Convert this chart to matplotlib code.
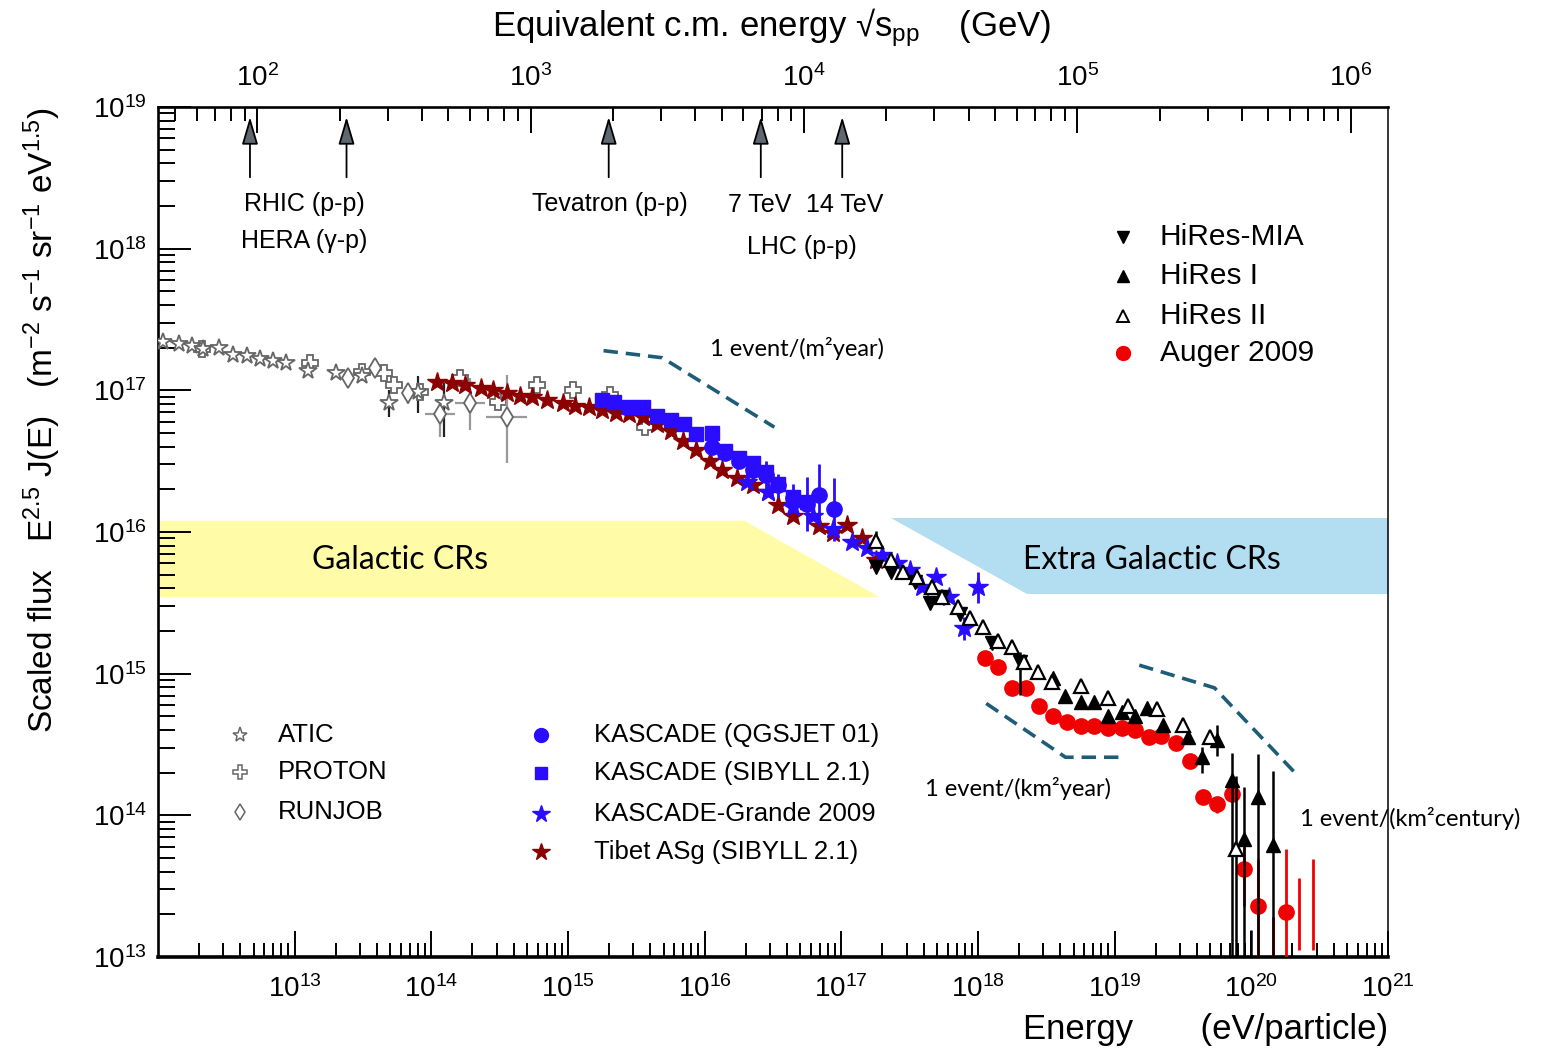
import numpy as np
import matplotlib
matplotlib.use('Agg')
import matplotlib.pyplot as plt
from matplotlib.patches import Polygon, FancyArrowPatch
from matplotlib.ticker import LogLocator, NullFormatter

plt.rcParams['font.family'] = ['Liberation Sans', 'DejaVu Sans']
plt.rcParams['mathtext.fontset'] = 'custom'
plt.rcParams['mathtext.rm'] = 'Liberation Sans'
plt.rcParams['mathtext.it'] = 'Liberation Sans:italic'
plt.rcParams['mathtext.bf'] = 'Liberation Sans:bold'
plt.rcParams['mathtext.sf'] = 'Liberation Sans'

# ---- data (log10 of energy in eV, log10 of E^2.5 J(E)) ----
atic_logE = [12.04, 12.15, 12.25, 12.33, 12.45, 12.55, 12.65, 12.75, 12.84, 12.94, 13.10, 13.30, 13.49, 13.69, 13.90, 14.09]
atic_logF = [17.34, 17.33, 17.31, 17.29, 17.30, 17.25, 17.24, 17.22, 17.21, 17.19, 17.14, 17.12, 17.10, 16.91, 16.99, 16.91]
atic_err_lo = [0] * 13 + [0.10, 0.15, 0.24]
atic_err_hi = [0] * 13 + [0.09, 0.11, 0.14]

proton_logE = [12.32, 13.11, 13.49, 13.65, 13.73, 13.92, 14.21, 14.49, 14.77, 15.04, 15.31, 15.56]
proton_logF = [17.29, 17.19, 17.13, 17.12, 17.04, 16.99, 17.09, 16.92, 17.04, 17.00, 16.97, 16.74]

runjob_logE = [13.39, 13.59, 13.83, 14.06, 14.28, 14.55]
runjob_logF = [17.09, 17.16, 16.98, 16.83, 16.91, 16.81]
runjob_err_lo = [0, 0, 0.08, 0.16, 0.19, 0.32]
runjob_err_hi = [0, 0, 0.07, 0.11, 0.18, 0.30]
runjob_xerr = [0, 0, 0, 0.11, 0.11, 0.15]

tibet_logE = [14.04, 14.15, 14.25, 14.36, 14.45, 14.55, 14.65, 14.74, 14.85, 14.96, 15.05, 15.15, 15.25, 15.35, 15.45, 15.55,
              15.65, 15.75, 15.84, 15.94, 16.04, 16.13, 16.24, 16.35, 16.46, 16.54, 16.65, 16.84, 16.94, 17.04, 17.15, 17.25]
tibet_logF = [17.06, 17.05, 17.04, 17.02, 17.00, 16.98, 16.96, 16.95, 16.93, 16.91, 16.89, 16.88, 16.86, 16.84, 16.83, 16.81,
              16.76, 16.71, 16.64, 16.58, 16.50, 16.44, 16.38, 16.33, 16.28, 16.19, 16.11, 16.04, 15.99, 16.05, 15.96, 15.80]

kas_sib_logE = [15.25, 15.34, 15.45, 15.55, 15.65, 15.75, 15.85, 15.94, 16.05, 16.15, 16.25, 16.35, 16.45, 16.54, 16.65, 16.75]
kas_sib_logF = [16.93, 16.92, 16.88, 16.88, 16.82, 16.79, 16.76, 16.69, 16.70, 16.57, 16.52, 16.49, 16.42, 16.34, 16.25, 16.21]

kas_qgs_logE = [16.05, 16.15, 16.25, 16.35, 16.45, 16.54, 16.65, 16.75, 16.84, 16.95]
kas_qgs_logF = [16.60, 16.56, 16.50, 16.44, 16.40, 16.33, 16.24, 16.20, 16.26, 16.16]
kas_qgs_err = [0, 0, 0, 0, 0.10, 0.08, 0.10, 0.19, 0.22, 0.22]

kg_logE = [16.31, 16.46, 16.65, 16.79, 16.94, 17.08, 17.19, 17.30, 17.41, 17.50, 17.59, 17.69, 17.79, 17.90, 18.00]
kg_logF = [16.35, 16.28, 16.18, 16.11, 16.02, 15.93, 15.89, 15.84, 15.78, 15.73, 15.61, 15.68, 15.54, 15.32, 15.61]
kg_err = [0] * 13 + [0.08, 0.11]

mia_logE = [17.25, 17.36, 17.54, 17.65, 17.74, 17.87, 18.10, 18.31]
mia_logF = [15.75, 15.72, 15.65, 15.50, 15.54, 15.42, 15.22, 15.08]
mia_err_lo = [0] * 7 + [0.23]
mia_err_hi = [0] * 7 + [0.07]

hires1_logE = [18.55, 18.64, 18.75, 18.85, 18.95, 19.05, 19.15, 19.24, 19.35, 19.54, 19.64, 19.75, 19.86, 19.95, 20.05, 20.16]
hires1_logF = [14.97, 14.84, 14.80, 14.80, 14.70, 14.73, 14.70, 14.76, 14.64, 14.55, 14.41, 14.53, 14.25, 13.83, 14.13, 13.79]
hires1_err_lo = [0] * 10 + [0.11, 0.11, 3, 3, 3, 3]
hires1_err_hi = [0] * 10 + [0.07, 0.11, 0.19, 0.37, 0.30, 0.52]

hires2_logE = [17.25, 17.36, 17.45, 17.55, 17.66, 17.74, 17.85, 17.94, 18.04, 18.15, 18.25, 18.34, 18.44, 18.54,
               18.75, 18.95, 19.10, 19.31, 19.50, 19.70, 19.89]
hires2_logF = [15.94, 15.80, 15.72, 15.68, 15.61, 15.54, 15.47, 15.39, 15.33, 15.23, 15.19, 15.08, 15.01, 14.94,
               14.91, 14.83, 14.77, 14.75, 14.64, 14.55, 13.76]
hires2_err_lo = [0.05] + [0] * 19 + [3]
hires2_err_hi = [0.07] + [0] * 19 + [0.52]

auger_logE = [18.05, 18.15, 18.25, 18.35, 18.45, 18.55, 18.65, 18.75, 18.85, 18.95, 19.05, 19.15, 19.25, 19.34,
              19.45, 19.55, 19.65, 19.75, 19.86, 19.95, 20.05, 20.25]
auger_logF = [15.11, 15.05, 14.90, 14.90, 14.77, 14.70, 14.66, 14.63, 14.63, 14.62, 14.62, 14.60, 14.55, 14.56,
              14.51, 14.38, 14.13, 14.08, 14.15, 13.62, 13.36, 13.32]
auger_err_lo = [0] * 16 + [0.05, 0.06, 0.05, 0.26, 3, 3]
auger_err_hi = [0] * 16 + [0.05, 0.05, 0.05, 0.16, 0.33, 0.44]

# error bars whose points fall below the plot
auger_bar_logE = [20.16, 20.35, 20.45]
auger_bar_lo = [12.9, 13.05, 13.05]
auger_bar_hi = [13.28, 13.56, 13.69]
hires_bar_logE = [20.00]
hires_bar_lo = [12.9]
hires_bar_hi = [13.19]

# colliders, sqrt(s) in GeV
collider_rs = [94, 212, 1930, 6950, 13800]

# band outlines (log E, log flux)
gal_band_logE = [12.0, 16.29, 17.28, 12.0]
gal_band_logF = [16.08, 16.08, 15.54, 15.54]
xgal_band_logE = [17.36, 21.0, 21.0, 18.36]
xgal_band_logF = [16.10, 16.10, 15.56, 15.56]

# event-rate guides
rate_m2yr_logE = [15.26, 15.69, 16.51]
rate_m2yr_logF = [17.28, 17.23, 16.74]
rate_km2yr_logE = [18.06, 18.64, 19.07]
rate_km2yr_logF = [14.79, 14.41, 14.41]
rate_km2cent_logE = [19.18, 19.73, 20.32]
rate_km2cent_logF = [15.06, 14.90, 14.30]

x_tick_exp = list(range(13, 22))

M_P = 0.938e9  # eV


def sqrt_s(E):
    return np.sqrt(2 * M_P * E) / 1e9


def energy(rs):
    return (rs * 1e9) ** 2 / (2 * M_P)


def lin(a):
    return 10 ** np.asarray(a, dtype=float)


def dex_err(logF, lo, hi):
    F = lin(logF)
    return [F - F * lin(-np.asarray(lo)), F * lin(hi) - F]


W, H = 1555, 1049
fig = plt.figure(figsize=(W / 100, H / 100), dpi=100)
ax = fig.add_axes([158 / W, 1 - 957 / H, 1230 / W, 850 / H])


def fpx(x, y):
    return x / W, 1 - y / H


ax.set_xscale('log')
ax.set_yscale('log')
ax.set_xlim(1e12, 1e21)
ax.set_ylim(1e13, 1e19)

# bands
ax.add_patch(Polygon(np.column_stack([lin(gal_band_logE), lin(gal_band_logF)]), closed=True,
                     facecolor='#FFFBA6', edgecolor='none', zorder=1))
ax.add_patch(Polygon(np.column_stack([lin(xgal_band_logE), lin(xgal_band_logF)]), closed=True,
                     facecolor='#B3DDF1', edgecolor='none', zorder=1))

gray = '#666666'
blue = '#2A0CFF'
dred = '#8B0000'

ax.errorbar(lin(atic_logE), lin(atic_logF), yerr=dex_err(atic_logF, atic_err_lo, atic_err_hi),
            fmt='*', ms=13, mfc='white', mec=gray, mew=1.3, ecolor='#222222', elinewidth=1.6, zorder=3)
ax.plot(lin(proton_logE), lin(proton_logF), 'P', ms=12, mfc='white', mec=gray, mew=1.3, zorder=3)
rj_x = lin(runjob_logE)
ax.errorbar(rj_x, lin(runjob_logF), yerr=dex_err(runjob_logF, runjob_err_lo, runjob_err_hi),
            xerr=[rj_x - rj_x * lin(-np.asarray(runjob_xerr)), rj_x * lin(runjob_xerr) - rj_x],
            fmt='d', ms=10, mfc='white', mec=gray, mew=1.3, ecolor='#999999', elinewidth=1.6, zorder=3)

ax.plot(lin(tibet_logE), lin(tibet_logF), '*', ms=15, color=dred, zorder=4)
ax.plot(lin(kas_sib_logE), lin(kas_sib_logF), 's', ms=10, color=blue, zorder=5)
ax.errorbar(lin(kas_qgs_logE), lin(kas_qgs_logF), yerr=dex_err(kas_qgs_logF, kas_qgs_err, kas_qgs_err),
            fmt='o', ms=11, color=blue, elinewidth=2, zorder=5)
ax.errorbar(lin(kg_logE), lin(kg_logF), yerr=dex_err(kg_logF, kg_err, kg_err),
            fmt='*', ms=15, color=blue, elinewidth=2, zorder=5)

ax.errorbar(lin(auger_logE), lin(auger_logF), yerr=dex_err(auger_logF, auger_err_lo, auger_err_hi),
            fmt='o', ms=11, color='#F00000', elinewidth=2, zorder=5)
ax.vlines(lin(auger_bar_logE), lin(auger_bar_lo), lin(auger_bar_hi), color='#F00000', lw=2, zorder=5)
ax.errorbar(lin(mia_logE), lin(mia_logF), yerr=dex_err(mia_logF, mia_err_lo, mia_err_hi),
            fmt='v', ms=10, color='black', elinewidth=1.8, zorder=6)
ax.errorbar(lin(hires1_logE), lin(hires1_logF), yerr=dex_err(hires1_logF, hires1_err_lo, hires1_err_hi),
            fmt='^', ms=10, color='black', elinewidth=1.8, zorder=6)
ax.vlines(lin(hires_bar_logE), lin(hires_bar_lo), lin(hires_bar_hi), color='black', lw=1.8, zorder=6)
ax.errorbar(lin(hires2_logE), lin(hires2_logF), yerr=dex_err(hires2_logF, hires2_err_lo, hires2_err_hi),
            fmt='^', ms=10, mfc='white', mec='black', mew=1.6, ecolor='black', elinewidth=1.8, zorder=6)

# event-rate guides
dash_col = '#1F5C78'
for le, lf in [(rate_m2yr_logE, rate_m2yr_logF), (rate_km2yr_logE, rate_km2yr_logF),
               (rate_km2cent_logE, rate_km2cent_logF)]:
    ax.plot(lin(le), lin(lf), color=dash_col, lw=2.6, ls=(0, (4, 2.2)), zorder=7)

# collider arrows
for rs in collider_rs:
    e = energy(rs)
    ax.add_patch(FancyArrowPatch((e, 3.05e18), (e, 8.9e18), arrowstyle='-|>,head_length=0.85,head_width=0.25',
                                 mutation_scale=20, lw=1.3, edgecolor='black', facecolor='#5F6870', zorder=8))

# ticks and frame
ax.set_xticks(lin(x_tick_exp))
ax.tick_params(which='both', direction='in', top=False, right=False, width=1.4)
ax.tick_params(axis='x', which='major', length=19, labelsize=20, pad=13)
ax.tick_params(axis='x', which='minor', length=10)
ax.tick_params(axis='y', which='major', length=24, labelsize=20, pad=8)
ax.tick_params(axis='y', which='minor', length=12)
ax.xaxis.set_minor_locator(LogLocator(base=10, subs=np.arange(2, 10), numticks=200))
ax.xaxis.set_minor_formatter(NullFormatter())
ax.yaxis.set_major_locator(LogLocator(base=10, numticks=20))
ax.yaxis.set_minor_locator(LogLocator(base=10, subs=np.arange(2, 10), numticks=200))
ax.yaxis.set_minor_formatter(NullFormatter())
ax.spines['left'].set_linewidth(1.9)
ax.spines['bottom'].set_linewidth(2.6)
ax.spines['right'].set_linewidth(1.1)
ax.spines['top'].set_visible(False)

tw = ax.twiny()
tw.set_xscale('log')
tw.set_xlim(sqrt_s(1e12), sqrt_s(1e21))
tw.tick_params(which='both', direction='in', width=1.4)
tw.tick_params(which='major', length=19, labelsize=20, pad=11)
tw.tick_params(which='minor', length=10)
tw.xaxis.set_major_locator(LogLocator(base=10, numticks=20))
tw.xaxis.set_minor_locator(LogLocator(base=10, subs=np.arange(2, 10), numticks=200))
tw.xaxis.set_minor_formatter(NullFormatter())
for s in ['left', 'right', 'bottom']:
    tw.spines[s].set_visible(False)
tw.spines['top'].set_linewidth(1.9)

# axis titles
fig.text(*fpx(772, 28), r'Equivalent c.m. energy √s$_{\mathrm{pp}}$    (GeV)', fontsize=25, ha='center', va='center')
fig.text(*fpx(1388, 1030), 'Energy       (eV/particle)', fontsize=25, ha='right', va='center')
fig.text(*fpx(42, 420), r'Scaled flux   E$^{2.5}$ J(E)   (m$^{-2}$ s$^{-1}$ sr$^{-1}$ eV$^{1.5}$)',
         fontsize=24, rotation=90, ha='center', va='center')

# collider labels
for (x, y, t) in [(304, 204, 'RHIC (p-p)'), (304, 241, 'HERA (γ-p)'), (610, 204, 'Tevatron (p-p)'),
                  (760, 205, '7 TeV'), (845, 205, '14 TeV'), (802, 247, 'LHC (p-p)')]:
    fig.text(*fpx(x, y), t, fontsize=18, ha='center', va='center')

# band and rate labels
cal = ['Lato', 'DejaVu Sans']
fig.text(*fpx(400, 560), 'Galactic CRs', fontsize=23, ha='center', va='center', family=cal, zorder=9)
fig.text(*fpx(1152, 560), 'Extra Galactic CRs', fontsize=23, ha='center', va='center', family=cal, zorder=9)
fig.text(*fpx(710, 348), '1 event/(m²year)', fontsize=17, ha='left', va='center', family=cal)
fig.text(*fpx(925, 789), '1 event/(km²year)', fontsize=17, ha='left', va='center', family=cal)
fig.text(*fpx(1300, 819), '1 event/(km²century)', fontsize=17, ha='left', va='center', family=cal)


# legends
def entry(mx, tx, y, label, size, **mk):
    ax.plot([fpx(mx, y)[0]], [fpx(mx, y)[1]], transform=fig.transFigure, clip_on=False, ls='none', **mk)
    fig.text(*fpx(tx, y), label, fontsize=size, ha='left', va='center')


entry(240, 278, 735, 'ATIC', 18.5, marker='*', ms=11, mfc='white', mec=gray, mew=1.1)
entry(240, 278, 772, 'PROTON', 18.5, marker='P', ms=10, mfc='white', mec=gray, mew=1.1)
entry(240, 278, 812, 'RUNJOB', 18.5, marker='d', ms=8, mfc='white', mec=gray, mew=1.1)
entry(541, 594, 735, 'KASCADE (QGSJET 01)', 18.5, marker='o', ms=10, color=blue)
entry(541, 594, 773, 'KASCADE (SIBYLL 2.1)', 18.5, marker='s', ms=9, color=blue)
entry(541, 594, 814, 'KASCADE-Grande 2009', 18.5, marker='*', ms=13, color=blue)
entry(541, 594, 852, 'Tibet ASg (SIBYLL 2.1)', 18.5, marker='*', ms=13, color=dred)
entry(1123, 1160, 237, 'HiRes-MIA', 21.5, marker='v', ms=9, color='black')
entry(1123, 1160, 276, 'HiRes I', 21.5, marker='^', ms=9, color='black')
entry(1123, 1160, 316, 'HiRes II', 21.5, marker='^', ms=9, mfc='white', mec='black', mew=1.4)
entry(1123, 1160, 353, 'Auger 2009', 21.5, marker='o', ms=10, color='#F00000')

fig.savefig('out.png', dpi=100)
